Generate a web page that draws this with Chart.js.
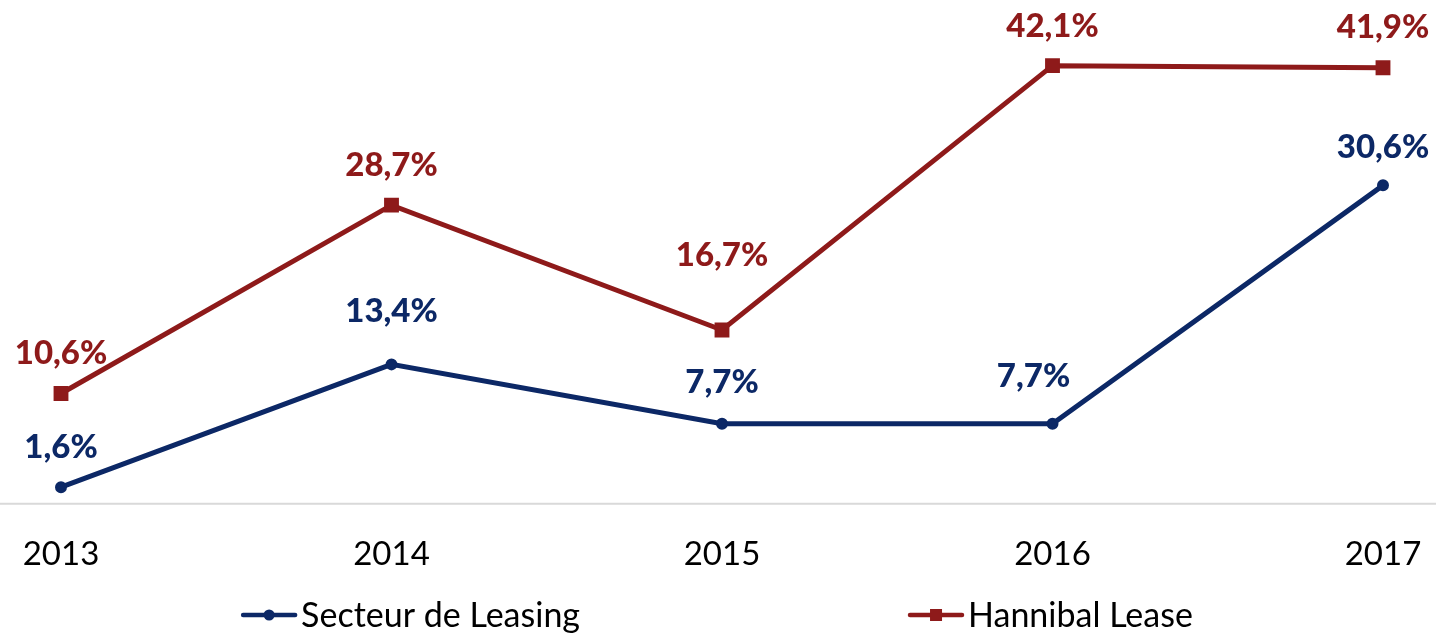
<!DOCTYPE html>
<html>
<head>
<meta charset="utf-8">
<script src="https://cdn.jsdelivr.net/npm/chart.js@4.4.1/dist/chart.umd.min.js"></script>
<style>
  html, body { margin: 0; padding: 0; background: #fff; }
  #wrap { width: 1436px; height: 636px; }
</style>
</head>
<body>
<div id="wrap"><canvas id="myChart"></canvas></div>
<script>
const years = ["2013", "2014", "2015", "2016", "2017"];
const secteurLeasing = [1.6, 13.4, 7.7, 7.7, 30.6];
const hannibalLease = [10.6, 28.7, 16.7, 42.1, 41.9];

const blue = "#0c2866";
const red = "#8e1a1a";

// label placement (px above / beside the point), some were moved by hand in the original
const secteurLift = [40, 53, 41, 47, 38];
const secteurShift = [0, 0, 0, -19, 0];
const hannibalLift = [40, 40, 75, 39, 40];
const hannibalShift = [0, 0, 0, 0, 0];

function pct(v) {
  return v.toFixed(1).replace(".", ",") + "%";
}

// grey baseline across the whole width, like the excel category axis
const baseline = {
  id: "baseline",
  beforeDatasetsDraw(chart) {
    const y = chart.scales.y.getPixelForValue(0);
    const ctx = chart.ctx;
    ctx.save();
    ctx.strokeStyle = "#d9d9d9";
    ctx.lineWidth = 2;
    ctx.beginPath();
    ctx.moveTo(0, y);
    ctx.lineTo(chart.width, y);
    ctx.stroke();
    ctx.restore();
  },
};

// value labels above each point
const valueLabels = {
  id: "valueLabels",
  afterDatasetsDraw(chart) {
    const ctx = chart.ctx;
    ctx.save();
    ctx.font = "900 33px Lato";
    ctx.textAlign = "center";
    ctx.textBaseline = "middle";
    chart.data.datasets.forEach((ds, i) => {
      const meta = chart.getDatasetMeta(i);
      ctx.fillStyle = ds.borderColor;
      meta.data.forEach((pt, j) => {
        ctx.fillText(pct(ds.data[j]), pt.x + ds.labelShift[j], pt.y - ds.labelLift[j]);
      });
    });
    ctx.restore();
  },
};

// legend spread out at the bottom
const bottomLegend = {
  id: "bottomLegend",
  afterDraw(chart) {
    const ctx = chart.ctx;
    const lineLen = 52;
    const gap = 6;
    const spread = 330;
    const y = 615;
    ctx.save();
    ctx.font = "34px Lato";
    ctx.textBaseline = "middle";
    const items = chart.data.datasets.map((ds) => ({
      ds: ds,
      w: lineLen + gap + ctx.measureText(ds.label).width,
    }));
    const total = items.reduce((s, it) => s + it.w, 0) + spread * (items.length - 1);
    let x = (chart.width - total) / 2;
    items.forEach((it) => {
      const ds = it.ds;
      ctx.strokeStyle = ds.borderColor;
      ctx.lineWidth = 4.5;
      ctx.lineCap = "round";
      ctx.beginPath();
      ctx.moveTo(x, y);
      ctx.lineTo(x + lineLen, y);
      ctx.stroke();
      ctx.fillStyle = ds.borderColor;
      const cx = x + lineLen / 2;
      if (ds.pointStyle === "rect") {
        ctx.fillRect(cx - 6, y - 6, 12, 12);
      } else {
        ctx.beginPath();
        ctx.arc(cx, y, 5.5, 0, Math.PI * 2);
        ctx.fill();
      }
      ctx.fillStyle = "#000";
      ctx.fillText(ds.label, x + lineLen + gap, y + 1);
      x += it.w + spread;
    });
    ctx.restore();
  },
};

const ctx = document.getElementById("myChart");

new Chart(ctx, {
  type: "line",
  data: {
    labels: years,
    datasets: [
      {
        label: "Secteur de Leasing",
        data: secteurLeasing,
        labelLift: secteurLift,
        labelShift: secteurShift,
        borderColor: blue,
        backgroundColor: blue,
        borderWidth: 5,
        pointStyle: "circle",
        pointRadius: 5,
        pointBorderWidth: 2,
        tension: 0,
      },
      {
        label: "Hannibal Lease",
        data: hannibalLease,
        labelLift: hannibalLift,
        labelShift: hannibalShift,
        borderColor: red,
        backgroundColor: red,
        borderWidth: 5,
        pointStyle: "rect",
        pointRadius: 10.5,
        pointBorderWidth: 0,
        tension: 0,
      },
    ],
  },
  options: {
    responsive: true,
    maintainAspectRatio: false,
    animation: false,
    layout: {
      padding: { left: 61, right: 53, top: 4, bottom: 32 },
    },
    scales: {
      x: {
        offset: false,
        grid: { display: false, drawTicks: false },
        border: { display: false },
        ticks: {
          color: "#000",
          font: { family: "Lato", size: 33, lineHeight: 2.55 },
          padding: 8,
          maxRotation: 0,
        },
      },
      y: {
        display: false,
        min: 0,
        max: 47.4,
      },
    },
    plugins: {
      legend: { display: false },
      tooltip: { enabled: false },
    },
  },
  plugins: [baseline, valueLabels, bottomLegend],
});
</script>
</body>
</html>
